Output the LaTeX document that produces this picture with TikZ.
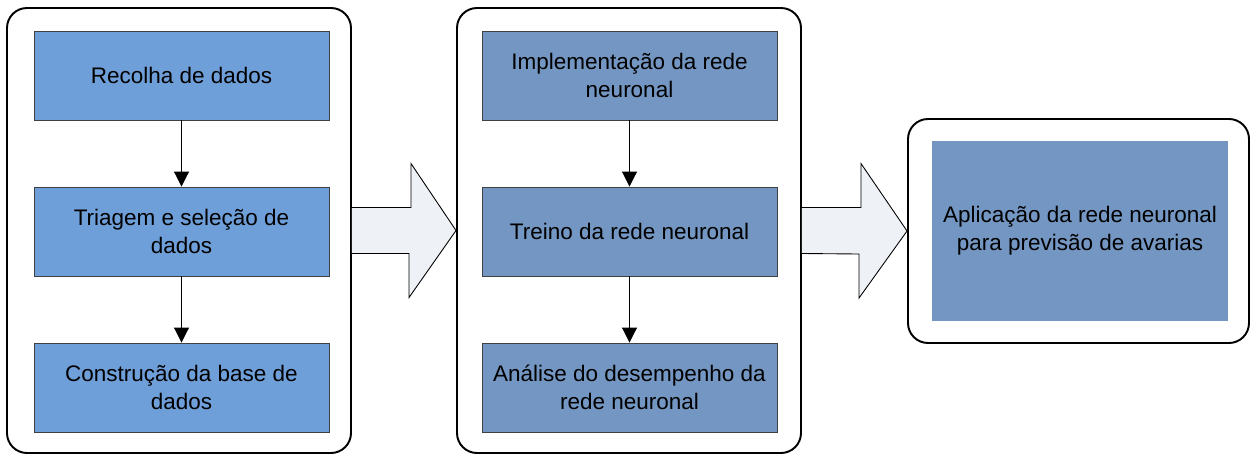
\documentclass[tikz,border=0pt]{standalone}
\usepackage{fontspec}
\setmainfont{Liberation Sans}
\usetikzlibrary{arrows.meta}

\definecolor{caixaA}{HTML}{6F9FD8}
\definecolor{caixaB}{HTML}{7396C2}
\definecolor{setaG}{HTML}{EEF1F6}

\begin{document}
\begin{tikzpicture}[
	painel/.style={draw, line width=1.1pt, rounded corners=0.4cm, fill=white},
	caixa/.style={draw=black!75, line width=0.5pt, minimum width=5.9cm, minimum height=1.78cm, align=center, font=\fontsize{12.8}{16}\selectfont},
	seta/.style={-{Triangle[length=0.3cm, width=0.3cm]}, line width=0.5pt},
	setagrande/.style={draw, fill=setaG, line width=0.5pt, line join=miter}
	]
	\useasboundingbox (0,0) rectangle (25,9.08) ;

	% paineis
	\node [painel, minimum width=6.88cm, minimum height=8.9cm] (p1) at (3.58,4.47) {} ;
	\node [painel, minimum width=6.88cm, minimum height=8.9cm] (p2) at (12.58,4.47) {} ;
	\node [painel, minimum width=6.82cm, minimum height=4.48cm] (p3) at (21.57,4.46) {} ;

	% setas grandes
	\draw [setagrande] ([yshift=0.46cm]p1.east) -- ++(1.18,0) -- ++(0,0.88) -- (p2.west) -- ++(-0.94,-1.34) -- ++(0,0.88) -- ([yshift=-0.46cm]p1.east) ;
	\draw [setagrande] ([yshift=0.46cm]p2.east) -- ++(1.18,0) -- ++(0,0.88) -- (p3.west) -- ++(-0.96,-1.34) -- ++(0,0.88) -- ([yshift=-0.46cm]p2.east) ;

	% primeira fase
	\node [caixa, fill=caixaA] (recolha) at (3.63,7.57) {Recolha de dados} ;
	\node [caixa, fill=caixaA] (triagem) at (3.63,4.45) {Triagem e seleção de\\dados} ;
	\node [caixa, fill=caixaA] (base) at (3.63,1.33) {Construção da base de\\dados} ;

	% segunda fase
	\node [caixa, fill=caixaB] (implem) at (12.59,7.57) {Implementação da rede\\neuronal} ;
	\node [caixa, fill=caixaB] (treino) at (12.59,4.45) {Treino da rede neuronal} ;
	\node [caixa, fill=caixaB] (analise) at (12.59,1.33) {Análise do desempenho da\\rede neuronal} ;

	% terceira fase
	\node [caixa, draw=none, fill=caixaB, minimum width=5.92cm, minimum height=3.6cm] (aplic) at (21.6,4.46) {Aplicação da rede neuronal\\para previsão de avarias} ;

	\draw [seta] (recolha) -- (triagem) ;
	\draw [seta] (triagem) -- (base) ;
	\draw [seta] (implem) -- (treino) ;
	\draw [seta] (treino) -- (analise) ;
\end{tikzpicture}
\end{document}
